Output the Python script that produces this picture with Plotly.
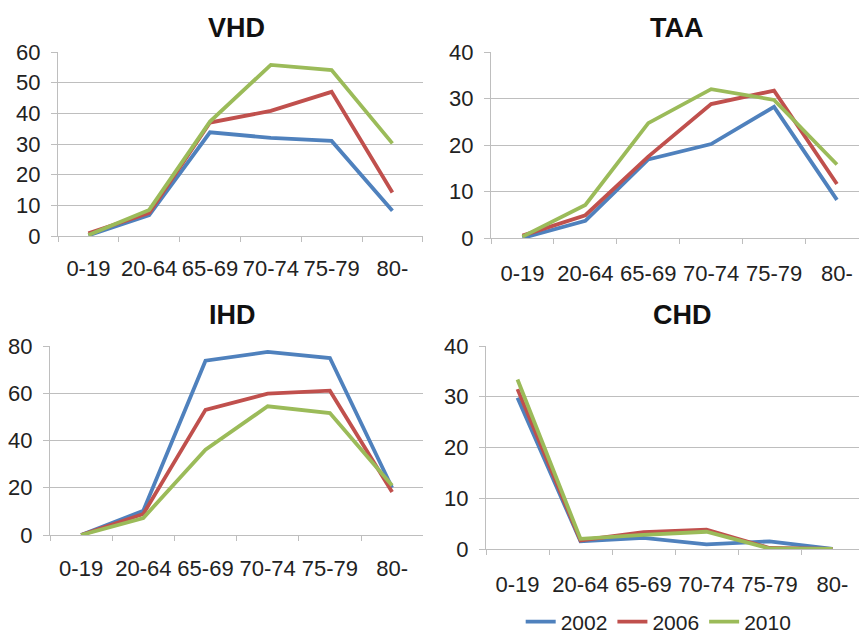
import plotly.graph_objects as go

categories = ["0-19", "20-64", "65-69", "70-74", "75-79", "80-"]
years = ["2002", "2006", "2010"]
colors = ["#4F81BD", "#C0504D", "#9BBB59"]

vhd_2002 = [0.2, 6.8, 33.8, 32.0, 31.0, 8.2]
vhd_2006 = [0.9, 7.5, 37.0, 40.8, 47.0, 14.2]
vhd_2010 = [0.3, 8.5, 37.3, 55.8, 54.1, 30.2]

taa_2002 = [0.0, 3.7, 16.9, 20.2, 28.2, 8.2]
taa_2006 = [0.5, 4.9, 17.5, 28.8, 31.7, 11.6]
taa_2010 = [0.3, 7.1, 24.7, 32.0, 29.7, 15.8]

ihd_2002 = [0.0, 10.3, 73.8, 77.5, 74.9, 20.0]
ihd_2006 = [0.0, 8.9, 53.0, 59.8, 61.1, 18.2]
ihd_2010 = [0.0, 7.2, 36.1, 54.5, 51.6, 21.0]

chd_2002 = [29.8, 1.5, 2.2, 0.9, 1.5, 0.0]
chd_2006 = [31.5, 1.7, 3.3, 3.8, 0.2, 0.0]
chd_2010 = [33.4, 2.0, 2.8, 3.4, 0.1, 0.0]

titles = ["VHD", "TAA", "IHD", "CHD"]
panels = [
    [vhd_2002, vhd_2006, vhd_2010],
    [taa_2002, taa_2006, taa_2010],
    [ihd_2002, ihd_2006, ihd_2010],
    [chd_2002, chd_2006, chd_2010],
]
y_ranges = [[0, 60], [0, 40], [0, 80], [0, 40]]
y_dticks = [10, 10, 20, 10]

W, H = 859, 635
# plot areas in pixels: (left, right, top, bottom)
boxes = [
    (58, 423, 52, 236),
    (491, 859, 52, 238),
    (50, 423, 346, 535),
    (486, 859, 346, 549),
]
cat_px = [60.8, 62.9, 62.2, 63.0]
y_standoff = [6, 6, 6, 6]
x_standoff = [12, 15, 13, 15]

FONT = "Liberation Sans, Arial, Helvetica, sans-serif"
GRID = "#BEBEBE"

fig = go.Figure()
layout = dict(
    width=W, height=H,
    margin=dict(l=0, r=0, t=0, b=0, autoexpand=False),
    paper_bgcolor="white", plot_bgcolor="white",
    font=dict(family=FONT, size=21, color="#222222"),
    showlegend=True,
    legend=dict(orientation="h", x=531 / W - 0.012, y=(H - 622) / H,
                xanchor="left", yanchor="middle",
                font=dict(size=21, color="#222222"),
                itemwidth=30, tracegroupgap=0, bgcolor="rgba(0,0,0,0)"),
    annotations=[],
)

for i, (title, series) in enumerate(zip(titles, panels)):
    l, r, t, b = boxes[i]
    xs = "" if i == 0 else str(i + 1)
    xname = "x" + xs
    yname = "y" + xs
    for j, vals in enumerate(series):
        fig.add_trace(go.Scatter(
            x=categories, y=vals, mode="lines",
            line=dict(color=colors[j], width=3.8),
            name=years[j], legendgroup=years[j], showlegend=(i == 3),
            xaxis=xname, yaxis=yname, hoverinfo="skip",
        ))
    xr_end = -0.5 + (r - l) / cat_px[i]
    layout["xaxis" + xs] = dict(
        domain=[l / W, r / W], anchor=yname,
        type="category", categoryorder="array", categoryarray=categories,
        range=[-0.5, xr_end], automargin=False,
        showgrid=False, zeroline=False,
        showline=True, linecolor=GRID, linewidth=1.2,
        ticks="outside", tickson="boundaries", ticklen=5, tickcolor=GRID,
        tickwidth=1.2, ticklabelstandoff=x_standoff[i], tickangle=0,
        ticklabeloverflow="allow",
        tickfont=dict(size=22, color="#222222"),
        fixedrange=True,
    )
    layout["yaxis" + xs] = dict(
        domain=[1 - b / H, 1 - t / H], anchor=xname, automargin=False,
        range=y_ranges[i], dtick=y_dticks[i], tick0=0,
        showgrid=True, gridcolor=GRID, gridwidth=1.2,
        zeroline=False,
        showline=True, linecolor=GRID, linewidth=1.2,
        ticks="outside", ticklen=6, tickcolor=GRID, tickwidth=1.2,
        ticklabelstandoff=y_standoff[i],
        tickfont=dict(size=22, color="#222222"),
        fixedrange=True,
    )
    cx = [237, 677, 232, 682][i]
    cy = [28, 28, 315, 315][i]
    layout["annotations"].append(dict(
        text="<b>%s</b>" % title, x=cx / W, y=1 - cy / H,
        xref="paper", yref="paper", xanchor="center", yanchor="middle",
        showarrow=False, font=dict(size=27, color="#111111", family=FONT),
    ))

fig.update_layout(**layout)
fig.write_html("out.html",
               config={"displayModeBar": False},
               post_script="document.body.style.margin='0px';")
